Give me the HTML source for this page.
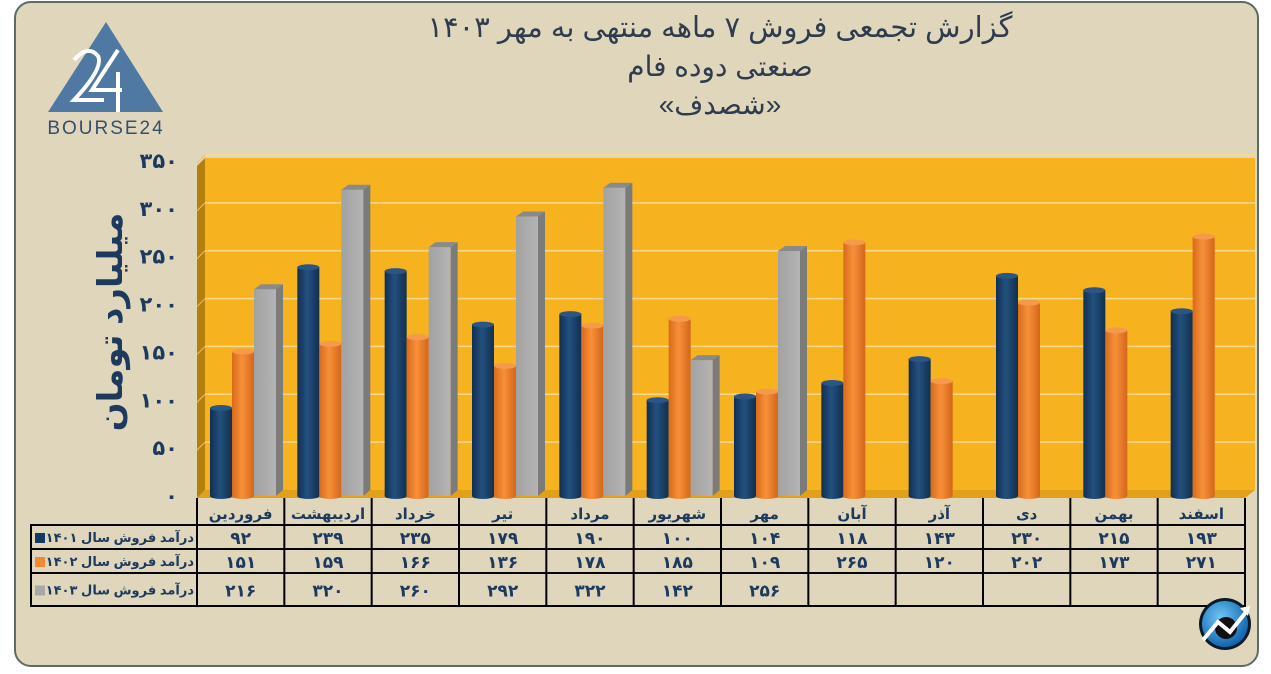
<!DOCTYPE html>
<html><head><meta charset="utf-8">
<style>
html,body{margin:0;padding:0;background:#fff;}
body{width:1271px;height:669px;overflow:hidden;position:relative;font-family:"Liberation Sans","Noto Sans CJK SC",sans-serif;}
svg text{font-family:"Liberation Sans","Noto Sans CJK SC","DejaVu Sans",sans-serif;}
</style></head>
<body>
<svg id="chart" width="1271" height="669" xmlns="http://www.w3.org/2000/svg">
<defs>
<linearGradient id="gBlue" x1="0" x2="1"><stop offset="0" stop-color="#0f2f55"/><stop offset="0.45" stop-color="#24507e"/><stop offset="1" stop-color="#10304f"/></linearGradient>
<linearGradient id="gOr" x1="0" x2="1"><stop offset="0" stop-color="#d96a1a"/><stop offset="0.45" stop-color="#f7903a"/><stop offset="1" stop-color="#d4661a"/></linearGradient>
<linearGradient id="gGr" x1="0" x2="1"><stop offset="0" stop-color="#a2a2a2"/><stop offset="1" stop-color="#b4b4b4"/></linearGradient>
<radialGradient id="gIcon" cx="0.4" cy="0.35" r="0.7"><stop offset="0" stop-color="#6cc6f5"/><stop offset="1" stop-color="#0b5fa8"/></radialGradient>
</defs>
<rect x="15" y="2" width="1243" height="664" rx="16" fill="#e0d6bc" stroke="#5d6b67" stroke-width="2"/>
<g>
<polygon points="106,22 163,112 48,112" fill="#4f79a3"/>
<path d="M74,60 Q88,44 98,56 Q104,68 74,100 L104,100" fill="none" stroke="#fff" stroke-width="4"/>
<path d="M118,50 L92,90 L122,90 M118,72 L118,112" fill="none" stroke="#fff" stroke-width="4"/>
<text x="106" y="134" text-anchor="middle" font-size="19" fill="#34506e" letter-spacing="2">BOURSE24</text>
</g>
<g fill="#2e3c4e" text-anchor="middle">
<text x="720" y="37" font-size="29">گزارش تجمعی فروش ۷ ماهه منتهی به مهر ۱۴۰۳</text>
<text x="720" y="76" font-size="28">صنعتی دوده فام</text>
<text x="720" y="114" font-size="28">«شصدف»</text>
</g>
<text transform="translate(122,322) rotate(-90)" text-anchor="middle" font-size="34" font-weight="bold" fill="#1d3a5e">میلیارد تومان</text>
<g>
<polygon points="197,166 205,158 205,490 197,498" fill="#b3800e"/>
<rect x="205" y="158" width="1050" height="332" fill="#f6b31f"/>
<polygon points="197,498 205,490 1255,490 1245,498" fill="#e0a01a"/>
</g>
<g id="grid"></g>
<g id="bars"></g>
<g id="yticks"></g>
<g id="table"></g>
<g>
<circle cx="1225" cy="624" r="26" fill="#0a1a2a"/>
<circle cx="1225" cy="624" r="23" fill="url(#gIcon)"/>
<circle cx="1226" cy="628" r="11" fill="#111"/>
<path d="M1203,640 L1218,622 L1230,632 L1246,612" fill="none" stroke="#fff" stroke-width="4"/>
<polygon points="1240,608 1250,606 1248,616" fill="#fff"/>
</g>
</svg>
<script>
const months=["فروردین","اردیبهشت","خرداد","تیر","مرداد","شهریور","مهر","آبان","آذر","دی","بهمن","اسفند"];
const sales1401=[92,239,235,179,190,100,104,118,143,230,215,193];
const sales1402=[151,159,166,136,178,185,109,265,120,202,173,271];
const sales1403=[216,320,260,292,322,142,256,null,null,null,null,null];
const yTicks=[0,50,100,150,200,250,300,350];
const seriesLabels=["درآمد فروش سال ۱۴۰۱","درآمد فروش سال ۱۴۰۲","درآمد فروش سال ۱۴۰۳"];

const NS="http://www.w3.org/2000/svg";
const y0=496, yTop=161, vMax=350;
const yScale=v=>y0-(v/vMax)*(y0-yTop);
const tx0=197, colW=(1245-197)/12;
const xBand=i=>tx0+i*colW;
const fa=n=>String(n).replace(/\d/g,d=>"۰۱۲۳۴۵۶۷۸۹"[d]);
function mk(tag,attrs,parent){const e=document.createElementNS(NS,tag);for(const k in attrs)e.setAttribute(k,attrs[k]);parent.appendChild(e);return e;}

const grid=document.getElementById('grid');
yTicks.forEach(t=>{
  if(t===0)return;
  const y=yScale(t)-6;
  const l=mk('line',{x1:205,x2:1255,y1:y,y2:y,stroke:'#f9d98a','stroke-width':1.5},grid);
  
  
  const s=mk('line',{x1:197,x2:205,y1:y+8,y2:y,stroke:'#f0c060','stroke-width':1},grid);
  
  
});
const yt=document.getElementById('yticks');
yTicks.forEach(t=>{
  const tx=mk('text',{x:178,y:yScale(t)+7,'text-anchor':'end','font-size':21,'font-weight':'bold',fill:'#1d3a5e'},yt);
  tx.textContent=fa(t);
  
  
});

const bars=document.getElementById('bars');
const series=[sales1401,sales1402,sales1403];
const fills=['url(#gBlue)','url(#gOr)','url(#gGr)'];
const tops=['#2a5584','#f59a4a','#c8c8c8'];
const bw=22;
months.forEach((m,i)=>{
  series.forEach((arr,s)=>{
    const v=arr[i]; if(v==null)return;
    const x=xBand(i)+13+s*22;
    const y=yScale(v);
    const g=mk('g',{},bars);
    
    
    if(s===2){
      mk('rect',{x:x,y:y,width:bw,height:y0-y,fill:fills[s]},g);
      mk('polygon',{points:`${x+bw},${y} ${x+bw+7},${y-5} ${x+bw+7},${y0-6} ${x+bw},${y0}`,fill:'#7b7b7b'},g);
      mk('polygon',{points:`${x},${y} ${x+7},${y-5} ${x+bw+7},${y-5} ${x+bw},${y}`,fill:'#8a8a8a'},g);
    } else {
      mk('rect',{x:x,y:y,width:bw,height:y0-y,fill:fills[s]},g);
      mk('ellipse',{cx:x+bw/2,cy:y0,rx:bw/2,ry:3,fill:fills[s]},g);
      mk('ellipse',{cx:x+bw/2,cy:y,rx:bw/2,ry:3,fill:tops[s]},g);
    }
  });
});

const tb=document.getElementById('table');
const rowsY=[498,525,549,573,606];
mk('line',{x1:30,x2:1246,y1:525,y2:525,stroke:'#000','stroke-width':2},tb);
mk('line',{x1:30,x2:1246,y1:549,y2:549,stroke:'#000','stroke-width':2},tb);
mk('line',{x1:30,x2:1246,y1:573,y2:573,stroke:'#000','stroke-width':2},tb);
mk('line',{x1:30,x2:1246,y1:606,y2:606,stroke:'#000','stroke-width':2},tb);
mk('line',{x1:31,x2:31,y1:525,y2:606,stroke:'#000','stroke-width':2},tb);
for(let i=0;i<=12;i++){
  mk('line',{x1:xBand(i),x2:xBand(i),y1:498,y2:606,stroke:'#000','stroke-width':2},tb);
}
months.forEach((m,i)=>{
  const t=mk('text',{x:xBand(i)+colW/2,y:519,'text-anchor':'middle','font-size':15,'font-weight':'bold',fill:'#1d3a5e'},tb);
  t.textContent=m;
  
  
});
const sw=['#123a66','#f28a35','#a8a8a8'];
series.forEach((arr,s)=>{
  const ry=rowsY[s+1], rh=rowsY[s+2]-ry;
  const lbl=mk('text',{x:194,y:ry+rh/2+5,'text-anchor':'end','font-size':13,'font-weight':'bold',fill:'#1d3a5e'},tb);
  lbl.textContent=seriesLabels[s];
  
  
  const k=mk('rect',{x:35,y:ry+rh/2-4,width:10,height:10,fill:sw[s]},tb);
  
  
  arr.forEach((v,i)=>{
    if(v==null)return;
    const c=mk('text',{x:xBand(i)+colW/2,y:ry+rh/2+7,'text-anchor':'middle','font-size':17,'font-weight':'bold',fill:'#1d3a5e'},tb);
    c.textContent=fa(v);
    
    
  });
});
</script>
</body></html>
